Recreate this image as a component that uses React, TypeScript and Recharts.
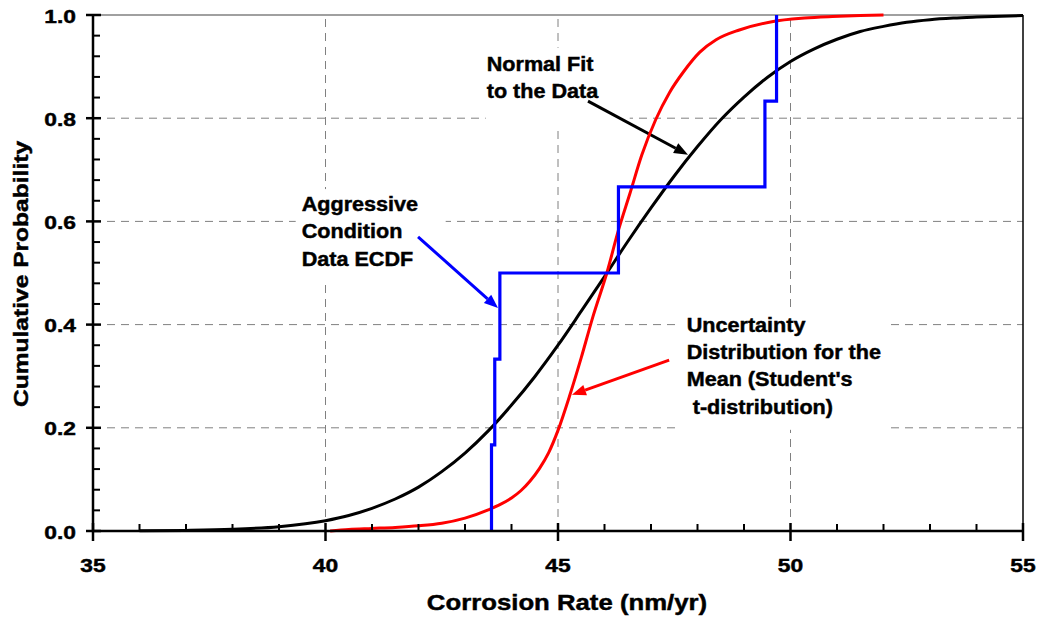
import React from 'react';
import { LineChart, Line, XAxis, YAxis, ReferenceLine } from 'recharts';

const FONT = "'Liberation Sans', Arial, sans-serif";

// normal fit to the data
const normalX = [36, 37, 38, 39, 40, 40.5, 41, 41.5, 42, 42.5, 43, 43.5, 44, 44.5, 45, 45.5, 46, 46.5, 47, 47.5, 48, 48.5, 49, 49.5, 50, 50.5, 51, 51.5, 52, 52.5, 53, 53.5, 54, 55];
const normalP = [0.0003, 0.0011, 0.0032, 0.0084, 0.02, 0.03, 0.044, 0.062, 0.085, 0.115, 0.151, 0.194, 0.244, 0.299, 0.36, 0.426, 0.493, 0.561, 0.626, 0.688, 0.745, 0.797, 0.841, 0.879, 0.91, 0.934, 0.953, 0.968, 0.978, 0.986, 0.991, 0.994, 0.996, 0.999];

// student's t uncertainty of the mean
const tDistX = [40.1, 40.5, 41, 41.5, 42, 42.5, 43, 43.5, 43.75, 44, 44.2, 44.4, 44.6, 44.8, 45, 45.25, 45.5, 45.75, 46.05, 46.3, 46.55, 46.8, 47.1, 47.4, 47.7, 48.05, 48.4, 48.9, 49.6, 50.3, 50.9, 51.5, 52];
const tDistP = [0, 0.003, 0.005, 0.007, 0.01, 0.015, 0.025, 0.041, 0.051, 0.064, 0.078, 0.097, 0.121, 0.152, 0.195, 0.262, 0.336, 0.415, 0.5, 0.583, 0.655, 0.728, 0.797, 0.85, 0.89, 0.928, 0.952, 0.971, 0.987, 0.994, 0.997, 0.999, 1];

// aggressive condition ECDF
const ecdfX = [43.57, 43.64, 43.75, 46.3, 49.45, 49.7, 49.7];
const ecdfP = [0, 0.167, 0.333, 0.5, 0.667, 0.833, 1];

const xTicks = [35, 36, 37, 38, 39, 40, 41, 42, 43, 44, 45, 46, 47, 48, 49, 50, 51, 52, 53, 54, 55];
const yTicks = [0, 0.04, 0.08, 0.12, 0.16, 0.2, 0.24, 0.28, 0.32, 0.36, 0.4, 0.44, 0.48, 0.52, 0.56, 0.6, 0.64, 0.68, 0.72, 0.76, 0.8, 0.84, 0.88, 0.92, 0.96, 1];
const gridX = [40, 45, 50];
const gridY = [0.2, 0.4, 0.6, 0.8];

const noteLines = [
  ['Normal Fit', 'to the Data'],
  ['Aggressive', 'Condition', 'Data ECDF'],
  ['Uncertainty', 'Distribution for the', 'Mean (Student\'s', '\u00a0t-distribution)'],
];
const noteX = [43.467, 39.488, 47.768];
const noteY = [0.892, 0.62, 0.386];
const noteBox = [[-1, -23, 144, 79], [-6, -22, 150, 92], [-8, -24, 208, 122]];

const arrowFrom = [[45.645, 0.833], [41.99, 0.57], [47.39, 0.331]];
const arrowTo = [[47.796, 0.729], [43.71, 0.432], [45.3, 0.264]];
const arrowColor = ['#000000', '#0000ff', '#ff0000'];

const normalData = normalX.map((x, i) => ({ x, p: normalP[i] }));
const tDistData = tDistX.map((x, i) => ({ x, p: tDistP[i] }));
const ecdfData = ecdfX.map((x, i) => ({ x, p: ecdfP[i] }));

const textStyle = { fontWeight: 'bold', fontFamily: FONT, fill: '#000', stroke: '#000', strokeWidth: 0.45 } as const;

function XTick(props: any) {
  const { x, y, payload } = props;
  const v = payload.value;
  const major = v % 5 === 0;
  return (
    <g>
      {major
        ? <line x1={x} x2={x} y1={y - 8} y2={y + 10} stroke="#000" strokeWidth={2.5} />
        : <line x1={x} x2={x} y1={y - 7} y2={y} stroke="#000" strokeWidth={2} />}
      {major && (
        <text transform={`translate(${x},${y + 41}) scale(1.2,1)`} textAnchor="middle" fontSize={19} {...textStyle}>{v}</text>
      )}
    </g>
  );
}

function YTick(props: any) {
  const { x, y, payload } = props;
  const v = payload.value;
  const major = Math.abs(v * 5 - Math.round(v * 5)) < 1e-6;
  return (
    <g>
      {major
        ? <line x1={x - 7} x2={x + 8} y1={y} y2={y} stroke="#000" strokeWidth={2.5} />
        : <line x1={x} x2={x + 7} y1={y} y2={y} stroke="#000" strokeWidth={2} />}
      {major && (
        <text transform={`translate(${x - 17},${y + 7.5}) scale(1.2,1)`} textAnchor="end" fontSize={19} {...textStyle}>{v.toFixed(1)}</text>
      )}
    </g>
  );
}

function Arrow(props: any) {
  const { x1, y1, x2, y2, color } = props;
  const a = Math.atan2(y2 - y1, x2 - x1);
  const len = 14;
  const w = 5.5;
  const bx = x2 - len * Math.cos(a);
  const by = y2 - len * Math.sin(a);
  const px = -Math.sin(a) * w;
  const py = Math.cos(a) * w;
  return (
    <g>
      <line x1={x1} y1={y1} x2={bx} y2={by} stroke={color} strokeWidth={3} />
      <polygon points={`${x2},${y2} ${bx + px},${by + py} ${bx - px},${by - py}`} fill={color} />
    </g>
  );
}

function Note(props: any) {
  const { cx, cy, lines, box } = props;
  return (
    <g>
      <rect x={cx + box[0]} y={cy + box[1]} width={box[2]} height={box[3]} fill="#fff" />
      {lines.map((t: string, i: number) => (
        <text key={i} transform={`translate(${cx},${cy + i * 27.3}) scale(1.08,1)`} fontSize={20} {...textStyle}>{t}</text>
      ))}
    </g>
  );
}

export default function App() {
  return (
    <div style={{ position: 'absolute', left: 0, top: 0 }}>
      <LineChart width={1039} height={619} margin={{ top: 15, right: 16, bottom: 8, left: 33 }}>
        <XAxis
          dataKey="x"
          type="number"
          domain={[35, 55]}
          ticks={xTicks}
          interval={0}
          height={80}
          tickSize={0}
          tickMargin={0}
          tickLine={false}
          tick={<XTick />}
          axisLine={{ stroke: '#000', strokeWidth: 2.5 }}
          label={{
            content: () => (
              <text transform="translate(567,610) scale(1.17,1)" textAnchor="middle" fontSize={22} {...textStyle}>Corrosion Rate (nm/yr)</text>
            ),
          }}
        />
        <YAxis
          type="number"
          domain={[0, 1]}
          ticks={yTicks}
          interval={0}
          width={60}
          tickSize={0}
          tickMargin={0}
          tickLine={false}
          tick={<YTick />}
          axisLine={{ stroke: '#000', strokeWidth: 2.5 }}
          label={{
            content: () => (
              <text transform="translate(28,274) rotate(-90) scale(1.17,1)" textAnchor="middle" fontSize={21} {...textStyle}>Cumulative Probability</text>
            ),
          }}
        />
        {gridX.map((v) => (
          <ReferenceLine key={`gx${v}`} x={v} stroke="#808080" strokeWidth={1} strokeDasharray="8 6" />
        ))}
        {gridY.map((v) => (
          <ReferenceLine key={`gy${v}`} y={v} stroke="#808080" strokeWidth={1} strokeDasharray="8 6" />
        ))}
        <ReferenceLine y={1} stroke="#808080" strokeWidth={1.5} />
        <ReferenceLine x={55} stroke="#000" strokeWidth={1.5} />
        {noteLines.map((lines, i) => (
          <ReferenceLine
            key={`n${i}`}
            segment={[{ x: noteX[i], y: noteY[i] }, { x: noteX[i], y: noteY[i] }]}
            shape={(p: any) => <Note cx={p.x1} cy={p.y1} lines={lines} box={noteBox[i]} />}
          />
        ))}
        {arrowColor.map((c, i) => (
          <ReferenceLine
            key={`a${i}`}
            segment={[{ x: arrowFrom[i][0], y: arrowFrom[i][1] }, { x: arrowTo[i][0], y: arrowTo[i][1] }]}
            stroke={c}
            shape={(p: any) => <Arrow x1={p.x1} y1={p.y1} x2={p.x2} y2={p.y2} color={c} />}
          />
        ))}
        <Line data={normalData} dataKey="p" type="monotone" dot={false} stroke="#000000" strokeWidth={3} isAnimationActive={false} />
        <Line data={tDistData} dataKey="p" type="monotone" dot={false} stroke="#ff0000" strokeWidth={3} isAnimationActive={false} />
        <Line data={ecdfData} dataKey="p" type="stepBefore" dot={false} stroke="#0000ff" strokeWidth={3.2} isAnimationActive={false} />
      </LineChart>
    </div>
  );
}
